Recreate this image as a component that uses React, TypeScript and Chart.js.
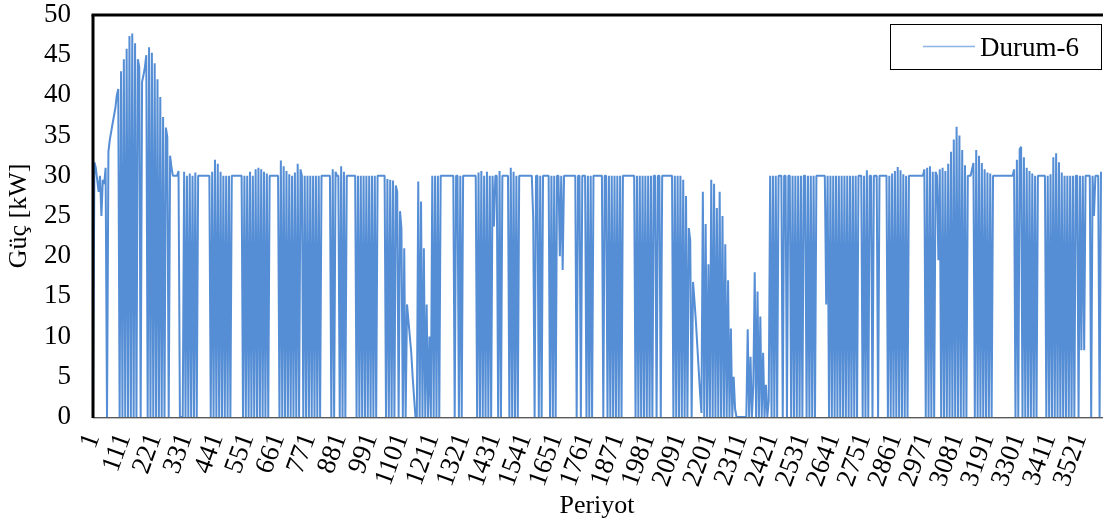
import React, { useEffect, useRef } from 'react';
import { Chart, registerables } from 'chart.js';

Chart.register(...registerables);

// x tick labels shown on the category axis (every 110 periods)
const tickLabels = [
  '1', '111', '221', '331', '441', '551', '661', '771', '881', '991', '1101',
  '1211', '1321', '1431', '1541', '1651', '1761', '1871', '1981', '2091', '2201',
  '2311', '2421', '2531', '2641', '2751', '2861', '2971', '3081', '3191', '3301',
  '3411', '3521',
];

const powerA = [0, 31.7, 31, 29.5, 28, 30, 25, 29.5, 29, 31,
  0, 33, 34.5, 35.5, 36.5, 37.5, 38.5, 40, 40.8,
  0, 43, 0, 44.5, 0, 45.8, 0, 47.4, 0, 47.7, 0, 46.5, 0, 44.5, 43.5,
  0, 41.7, 42.5, 43.5, 45, 0, 46, 0, 45.3, 0, 44, 0, 42, 0, 39.8, 0,
  37.3, 0, 36, 34.8, 0, 32.5, 31, 30, 30, 30];
const powerB = [30, 30.6, 0, 0, 0,
  30.5, 0, 30, 0, 30.3, 0, 30, 0, 30.4, 0, 30, 30,
  30, 30, 30, 30, 30, 30, 30,
  0, 30.5, 0, 32, 0, 31.5, 0, 30.5, 0, 30, 0, 30, 0,
  30, 0, 30, 30, 30, 30, 30, 30, 30, 30,
  0, 30, 0, 30, 0, 30.5, 0, 30, 0, 30.8, 0, 31, 0];
const powerC = [30.8, 0, 30.5, 0, 30.3, 0, 30,
  30, 30, 30, 30, 30, 30,
  0, 31.9, 0, 31.2, 0, 30.6, 0, 30.2, 0, 30, 0, 30.4, 0, 31.5, 0, 30.8,
  30,
  0, 30, 0, 30, 0, 30, 0, 30, 0, 30, 0, 30, 0,
  30, 30, 30, 30, 30, 30, 30,
  0, 30.8, 0, 30.5, 30, 30, 0, 31.2, 0, 30.5];
const powerD = [0, 30,
  30, 30, 30, 30, 30, 30,
  0, 30, 0, 30, 0, 30, 0, 30, 0, 30, 0, 30, 0, 30, 0,
  30, 30, 30, 30, 30, 30,
  0, 29.6, 0, 29.5, 0, 29.4, 0, 28.8, 28, 0, 25.6, 23.5, 0, 21, 0, 14,
  12, 10, 8, 5, 2.5, 0, 0,
  29.3, 0, 26.8, 0, 21, 0, 14, 0];
const powerE = [10, 0,
  30, 0, 30, 0, 30, 0, 30,
  30, 30, 30, 30, 30, 30, 30, 30, 30,
  0, 30, 30,
  0, 30, 0, 30,
  30, 30, 30, 30, 30, 30, 30, 30, 30,
  0, 30.4, 0, 30.6, 0, 30, 0, 30.5, 0, 30, 0, 30, 23.7,
  30, 30,
  0, 30.6, 0,
  30, 30, 30, 30, 30,
  0, 31, 0];
const powerF = [30.5, 0, 30, 0, 30,
  30, 30, 30, 30, 30, 30, 30, 30, 30,
  24.7,
  0, 30, 30, 0, 30, 0, 30,
  30, 30, 30, 30,
  0, 30, 0, 30, 0, 30,
  30, 20, 30, 18.3, 30,
  30, 30, 30, 30, 30, 30, 30, 30,
  0, 30, 30, 0, 30, 30, 30, 0, 30, 0, 30, 0, 30, 30, 30];
const powerG = [30, 30, 30, 30,
  0, 30, 30, 0, 30,
  0, 30, 0, 30, 0, 30, 0, 30, 0, 30,
  30, 30, 30, 30, 30, 30, 30, 30,
  0, 30, 0, 30, 0, 30, 0,
  30, 0, 30,
  0, 30, 0, 30,
  30, 0, 30, 30, 0, 30,
  30, 30, 30, 30, 30, 30, 30,
  0, 30, 0, 30, 0, 30];
const powerH = [0, 29.5, 0, 27.5, 0, 23.5, 22, 0, 16.8,
  14.5, 12, 9, 6, 3, 0.5,
  28, 0, 24, 0, 19, 0,
  29.5, 0, 29, 0, 26, 0,
  28, 0, 25, 0, 21.5, 0, 17, 0, 11, 0, 5, 1,
  0, 0, 0, 0, 0, 0, 0,
  0, 10.9, 0, 7.5, 0, 4,
  18, 0, 15.6, 0, 12.5, 0, 8, 0];
const powerI = [4, 0, 2,
  30,
  0, 30, 0, 30, 0, 30,
  30, 30,
  0, 30, 30, 0, 30, 30,
  0, 30, 0, 30, 0, 30, 0, 30, 0,
  30, 30, 0, 30,
  0, 30, 0, 30, 0, 30,
  30, 30, 30, 30, 30,
  30, 14, 30, 0,
  30, 0, 30, 0, 30, 0, 30, 0, 30, 0, 30, 0, 30, 0];
const powerJ = [30, 0, 30, 0, 30, 0,
  30, 30, 30,
  0, 30, 0, 30.7, 0, 30, 30, 0, 30,
  30, 30, 0, 30,
  30, 30, 30, 30, 30,
  0, 30, 0, 30.3, 0, 30.6, 0, 31.1, 0, 30.7, 0, 30.2, 0, 30, 0,
  30, 30, 30, 30, 30, 30, 30, 30, 30, 30, 30,
  30.8, 0, 31, 0, 31.2, 0, 30.5];
const powerK = [0, 30.5, 30, 19.5, 30.8, 0, 31, 0, 30.6, 0,
  31.5, 0, 33, 0, 34.5, 0, 36.1, 0, 35, 0, 33.2, 0, 31.3, 0,
  30, 30, 30, 30.8, 31.6,
  0, 33.2, 0, 32.5, 0, 31.6, 0, 30.8, 0, 30.4, 0, 30.3, 0, 30,
  30, 30, 30, 30, 30, 30, 30, 30, 30, 30, 30, 30, 30, 30, 30.8,
  0, 32];
const powerL = [0, 33.3, 33.6, 0, 32.3, 0, 31, 0, 30.6, 0, 30.3, 0, 30, 0, 30,
  30, 30, 30, 30, 30,
  0, 30, 0, 30.2,
  0, 32.3, 0, 32.8, 0, 31.7, 0, 30.4, 0,
  30, 0, 30, 0, 30, 0, 30, 0, 30,
  30,
  0, 30, 8.3, 30, 8.3, 30,
  30, 30, 30,
  0, 30,
  25, 30,
  30, 30,
  0, 30.5];

const power = [
  ...powerA, ...powerB, ...powerC, ...powerD, ...powerE, ...powerF,
  ...powerG, ...powerH, ...powerI, ...powerJ, ...powerK, ...powerL,
];

// category labels: period numbers (every 5th period)
const periods = power.map((_, i) => String(1 + 5 * i));
const tickSet = new Set(tickLabels);

const SERIES_NAME = 'Durum-6';
const LINE_COLOR = '#558ED5';
const LEGEND_LINE = '#8DB4E2';
const FONT = "'Liberation Serif', 'Times New Roman', serif";

const framePlugin = {
  id: 'excelFrame',
  afterDatasetsDraw(chart: any) {
    const { ctx, chartArea: a } = chart;
    ctx.save();
    // bottom axis line
    ctx.lineWidth = 1;
    ctx.strokeStyle = '#595959';
    ctx.beginPath();
    ctx.moveTo(a.left, a.bottom + 0.5);
    ctx.lineTo(chart.width, a.bottom + 0.5);
    ctx.stroke();
    ctx.strokeStyle = '#bfbfbf';
    ctx.beginPath();
    ctx.moveTo(a.left, a.bottom + 1.5);
    ctx.lineTo(chart.width, a.bottom + 1.5);
    ctx.stroke();
    // thick top and left frame
    ctx.strokeStyle = '#000';
    ctx.lineWidth = 3;
    ctx.beginPath();
    ctx.moveTo(a.left - 1.5, a.top);
    ctx.lineTo(chart.width, a.top);
    ctx.stroke();
    ctx.beginPath();
    ctx.moveTo(a.left, a.top);
    ctx.lineTo(a.left, a.bottom + 1);
    ctx.stroke();
    // legend box
    const bx = a.right - 211;
    const by = a.top + 9;
    ctx.lineWidth = 1;
    ctx.strokeStyle = '#000';
    ctx.fillStyle = '#fff';
    ctx.fillRect(bx + 0.5, by + 0.5, 211, 45);
    ctx.strokeRect(bx + 0.5, by + 0.5, 211, 45);
    ctx.strokeStyle = LEGEND_LINE;
    ctx.lineWidth = 1.5;
    ctx.beginPath();
    ctx.moveTo(bx + 33, by + 22.5);
    ctx.lineTo(bx + 85, by + 22.5);
    ctx.stroke();
    ctx.fillStyle = '#000';
    ctx.font = `27px ${FONT}`;
    ctx.textAlign = 'left';
    ctx.textBaseline = 'alphabetic';
    ctx.fillText(SERIES_NAME, bx + 90, by + 32);
    ctx.restore();
  },
};

const zeroPad = (s: any) => {
  s.paddingLeft = 0;
  s.paddingRight = 0;
  s.paddingTop = 0;
  s.paddingBottom = 0;
};

export default function App() {
  const ref = useRef<HTMLCanvasElement | null>(null);

  useEffect(() => {
    if (!ref.current) return;
    Chart.defaults.font.family = FONT;
    const chart = new Chart(ref.current, {
      type: 'line',
      data: {
        labels: periods,
        datasets: [
          {
            label: SERIES_NAME,
            data: power,
            borderColor: LINE_COLOR,
            backgroundColor: LINE_COLOR,
            borderWidth: 2,
            pointRadius: 0,
            pointHoverRadius: 0,
            tension: 0,
            fill: false,
            borderJoinStyle: 'bevel',
          },
        ],
      },
      plugins: [framePlugin],
      options: {
        animation: false,
        responsive: true,
        maintainAspectRatio: false,
        devicePixelRatio: 1,
        layout: { padding: { top: 15, right: 2, left: 0, bottom: 0 } },
        plugins: {
          legend: { display: false },
          tooltip: { enabled: false },
        },
        scales: {
          x: {
            type: 'category',
            offset: false,
            grid: { display: false, drawTicks: false },
            border: { display: false },
            ticks: {
              autoSkip: false,
              minRotation: 70,
              maxRotation: 70,
              padding: 12,
              color: '#000',
              font: { family: FONT, size: 27 },
              callback: (_v: any, i: number) => (tickSet.has(periods[i]) ? periods[i] : ''),
            },
            title: {
              display: true,
              text: 'Periyot',
              color: '#000',
              font: { family: FONT, size: 26 },
            },
            afterFit: (s: any) => {
              s.height = 109;
              zeroPad(s);
            },
          },
          y: {
            min: 0,
            max: 50,
            grid: { display: false, drawTicks: false },
            border: { display: false },
            ticks: {
              stepSize: 5,
              padding: 22,
              color: '#000',
              font: { family: FONT, size: 27 },
            },
            title: {
              display: true,
              text: 'Güç [kW]',
              color: '#000',
              font: { family: FONT, size: 26 },
            },
            afterFit: (s: any) => {
              s.width = 93;
              zeroPad(s);
            },
          },
        },
      },
    });
    return () => chart.destroy();
  }, []);

  return (
    <div style={{ position: 'absolute', left: 0, top: 0, width: 1103, height: 526, background: '#fff' }}>
      <canvas ref={ref} />
    </div>
  );
}
